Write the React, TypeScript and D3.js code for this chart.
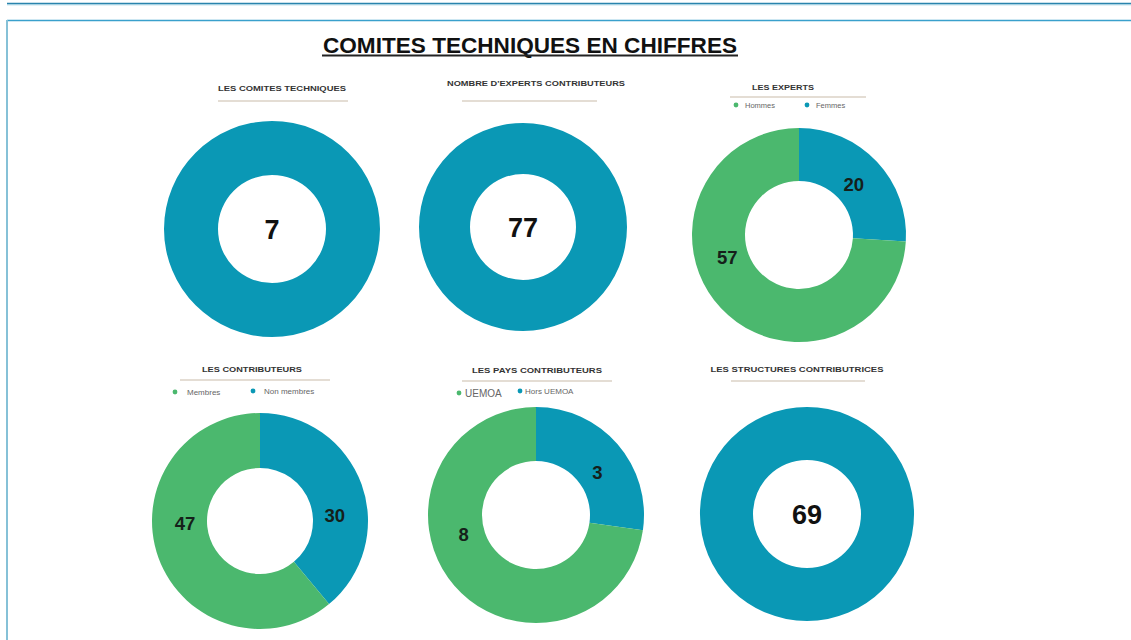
import * as d3 from 'd3';

const BLUE = '#0a98b5';
const GREEN = '#4bb86e';

// rings that show one total
const totalTitles = ['LES COMITES TECHNIQUES', "NOMBRE D'EXPERTS CONTRIBUTEURS", 'LES STRUCTURES CONTRIBUTRICES'];
const totalValues = [7, 77, 69];

// rings split in two (legend order: green first, blue second)
const expertsCategories = ['Hommes', 'Femmes'];
const expertsValues = [57, 20];
const contribCategories = ['Membres', 'Non membres'];
const contribValues = [47, 30];
const paysCategories = ['UEMOA', 'Hors UEMOA'];
const paysValues = [8, 3];

const colors = [GREEN, BLUE];

type Layout = {
  cx: number;
  cy: number;
  rOut: number;
  rIn: number;
  titleX: number;
  titleY: number;
  titleW: number;
  lineX: [number, number];
  lineY: number;
  legend?: { dotX: number; textX: number; y: number; size: number }[];
  labelAngles?: number[];
};

const totalLayouts: Layout[] = [
  { cx: 272, cy: 229, rOut: 108, rIn: 54, titleX: 282, titleY: 91, titleW: 128, lineX: [218, 348], lineY: 101 },
  { cx: 523, cy: 227, rOut: 104, rIn: 53, titleX: 536, titleY: 86, titleW: 178, lineX: [462, 597], lineY: 101 },
  { cx: 807, cy: 514, rOut: 107, rIn: 54, titleX: 797, titleY: 372, titleW: 173, lineX: [731, 865], lineY: 381 },
];

const splitLayouts: Layout[] = [
  {
    cx: 799, cy: 235, rOut: 107, rIn: 54, titleX: 783, titleY: 90, titleW: 62, lineX: [730, 866], lineY: 97,
    legend: [
      { dotX: 736, textX: 745, y: 105, size: 7.5 },
      { dotX: 807, textX: 816, y: 105, size: 7.5 },
    ],
    labelAngles: [253, 47],
  },
  {
    cx: 260, cy: 521, rOut: 108, rIn: 53, titleX: 252, titleY: 372, titleW: 100, lineX: [180, 330], lineY: 380,
    legend: [
      { dotX: 175, textX: 187, y: 392, size: 8 },
      { dotX: 253, textX: 264, y: 391, size: 8 },
    ],
    labelAngles: [268, 86],
  },
  {
    cx: 536, cy: 515, rOut: 108, rIn: 54, titleX: 537, titleY: 373, titleW: 130, lineX: [462, 612], lineY: 381,
    legend: [
      { dotX: 459, textX: 465, y: 393, size: 10 },
      { dotX: 520, textX: 525, y: 391, size: 8 },
    ],
    labelAngles: [255, 55],
  },
];

const splitTitles = ['LES EXPERTS', 'LES CONTRIBUTEURS', 'LES PAYS CONTRIBUTEURS'];

const splits = [
  { cats: expertsCategories, vals: expertsValues },
  { cats: contribCategories, vals: contribValues },
  { cats: paysCategories, vals: paysValues },
];

const FONT = "'Liberation Sans', Arial, Helvetica, sans-serif";
const NARROW = "'Liberation Sans Narrow', 'Arial Narrow', 'Liberation Sans', Arial, sans-serif";

const Title = ({ l, text }: { l: Layout; text: string }) => (
  <g>
    <text
      x={l.titleX}
      y={l.titleY}
      textAnchor="middle"
      fontSize={7.5}
      fontWeight="bold"
      fill="#333"
      textLength={l.titleW}
      lengthAdjust="spacingAndGlyphs"
    >
      {text}
    </text>
    <line x1={l.lineX[0]} x2={l.lineX[1]} y1={l.lineY} y2={l.lineY} stroke="#c9bca9" strokeWidth={1.2} />
  </g>
);

const TotalRing = ({ l, title, value }: { l: Layout; title: string; value: number }) => {
  const arc = d3.arc<d3.PieArcDatum<number>>().innerRadius(l.rIn).outerRadius(l.rOut);
  const arcs = d3.pie<number>().sort(null)([value]);
  return (
    <g>
      <Title l={l} text={title} />
      <g transform={`translate(${l.cx},${l.cy})`}>
        {arcs.map((a, i) => (
          <path key={i} d={arc(a) || ''} fill={BLUE} />
        ))}
        <text textAnchor="middle" dy="0.36em" fontSize={27} fontWeight="bold" fill="#111">
          {value}
        </text>
      </g>
    </g>
  );
};

const SplitRing = ({ l, title, cats, vals }: { l: Layout; title: string; cats: string[]; vals: number[] }) => {
  const arc = d3.arc<d3.PieArcDatum<number>>().innerRadius(l.rIn).outerRadius(l.rOut);
  // blue slice starts at twelve o'clock, going clockwise
  const order = vals.map((_, i) => i).reverse();
  const arcs = d3.pie<number>().sort(null)(order.map((i) => vals[i]));
  const rLabel = 75;
  return (
    <g>
      <Title l={l} text={title} />
      {l.legend!.map((lg, i) => (
        <g key={cats[i]}>
          <circle cx={lg.dotX} cy={lg.y} r={2.4} fill={colors[i]} />
          <text x={lg.textX} y={lg.y} dy="0.35em" fontSize={lg.size} fill="#666">
            {cats[i]}
          </text>
        </g>
      ))}
      <g transform={`translate(${l.cx},${l.cy})`}>
        {arcs.map((a, k) => (
          <path key={k} d={arc(a) || ''} fill={colors[order[k]]} />
        ))}
        {vals.map((v, i) => {
          const t = (l.labelAngles![i] * Math.PI) / 180;
          return (
            <text
              key={i}
              x={Math.sin(t) * rLabel}
              y={-Math.cos(t) * rLabel}
              dy="0.36em"
              textAnchor="middle"
              fontSize={18.5}
              fontWeight="bold"
              fill="#15201a"
            >
              {v}
            </text>
          );
        })}
      </g>
    </g>
  );
};

export default function App() {
  return (
    <svg
      width={1131}
      height={640}
      style={{ position: 'absolute', left: 0, top: 0, background: '#fff', fontFamily: FONT }}
    >
      <line x1={7} x2={1131} y1={3.5} y2={3.5} stroke="#2a84ad" strokeWidth={1.6} />
      <line x1={7} x2={1131} y1={4.8} y2={4.8} stroke="#8cc6dc" strokeWidth={0.8} />
      <line x1={7} x2={1131} y1={20.5} y2={20.5} stroke="#3aa0cc" strokeWidth={1.6} />
      <line x1={7} x2={7} y1={20} y2={640} stroke="#86c1d7" strokeWidth={2} />

      <text
        x={530}
        y={52.5}
        textAnchor="middle"
        fontSize={22}
        fontWeight="bold"
        fill="#111"
        fontFamily={NARROW}
        textLength={414}
        lengthAdjust="spacingAndGlyphs"
      >
        COMITES TECHNIQUES EN CHIFFRES
      </text>
      <line x1={322} x2={738} y1={55.5} y2={55.5} stroke="#222" strokeWidth={2} />

      {totalLayouts.map((l, i) => (
        <TotalRing key={totalTitles[i]} l={l} title={totalTitles[i]} value={totalValues[i]} />
      ))}
      {splitLayouts.map((l, i) => (
        <SplitRing key={splitTitles[i]} l={l} title={splitTitles[i]} cats={splits[i].cats} vals={splits[i].vals} />
      ))}
    </svg>
  );
}
